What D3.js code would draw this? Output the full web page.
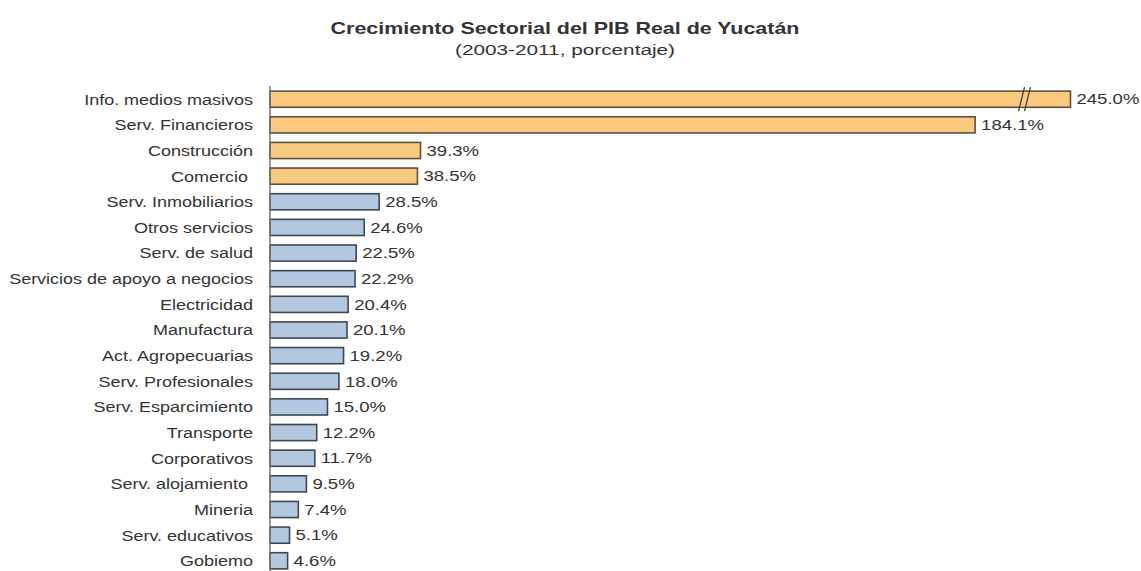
<!DOCTYPE html>
<html>
<head>
<meta charset="utf-8">
<script src="https://cdn.jsdelivr.net/npm/d3@7"></script>
<style>
  body { margin: 0; background: #fff; }
  text { font-family: "Liberation Sans", Arial, sans-serif; fill: #333; }
</style>
</head>
<body>
<script>
let sectors = ["Info. medios masivos", "Serv. Financieros", "Construcción", "Comercio\u00a0",
    "Serv. Inmobiliarios", "Otros servicios", "Serv. de salud", "Servicios de apoyo a negocios",
    "Electricidad", "Manufactura", "Act. Agropecuarias", "Serv. Profesionales",
    "Serv. Esparcimiento", "Transporte", "Corporativos", "Serv. alojamiento\u00a0",
    "Mineria", "Serv. educativos", "Gobiemo"];
let growth = [245.0, 184.1, 39.3, 38.5, 28.5, 24.6, 22.5, 22.2, 20.4, 20.1, 19.2, 18.0,
    15.0, 12.2, 11.7, 9.5, 7.4, 5.1, 4.6];
let highlighted = ["Info. medios masivos", "Serv. Financieros", "Construcción", "Comercio\u00a0"];
let breakAt = 209;      // bars longer than this are cut
let breakMark = 197;    // where the // sign goes

let size = {width: 1141, height: 571};
let margin = {top: 86, right: 70, bottom: 0, left: 270};
let stretch = {title: 1.34, label: 1.2, value: 1.28};   // the source type is wide

let svg = d3.select("body").append("svg")
    .attr("width", size.width)
    .attr("height", size.height);

let x = d3.scaleLinear()
    .domain([0, breakAt])
    .range([margin.left, margin.left + 3.83 * breakAt]);

let y = d3.scaleBand()
    .domain(sectors)
    .range([margin.top, 574])
    .paddingInner(0.37)
    .paddingOuter(0.2);

svg.append("text")
    .attr("transform", `translate(565,34) scale(${stretch.title},1)`)
    .attr("text-anchor", "middle")
    .attr("font-size", 16).attr("font-weight", "bold")
    .attr("fill", "#222")
    .text("Crecimiento Sectorial del PIB Real de Yucatán");

svg.append("text")
    .attr("transform", `translate(565,55) scale(${stretch.title},1)`)
    .attr("text-anchor", "middle")
    .attr("font-size", 15.5)
    .text("(2003-2011, porcentaje)");

let data = sectors.map((s, i) => ({sector: s, value: growth[i]}));

svg.append("g")
    .selectAll("rect")
    .data(data)
    .join("rect")
    .attr("x", x(0))
    .attr("y", d => y(d.sector))
    .attr("width", d => x(Math.min(d.value, breakAt)) - x(0))
    .attr("height", y.bandwidth())
    .attr("fill", d => highlighted.includes(d.sector) ? "#fac980" : "#b3c7df")
    .attr("stroke", d => highlighted.includes(d.sector) ? "#5a5040" : "#3f4852")
    .attr("stroke-width", 1.6);

// break sign on cut bars
let cut = data.filter(d => d.value > breakAt);
let breakG = svg.append("g").selectAll("g")
    .data(cut)
    .join("g")
    .attr("transform", d => `translate(${x(breakMark)},${y(d.sector) + y.bandwidth() / 2})`);
breakG.append("rect")
    .attr("x", -4).attr("y", -y.bandwidth() / 2 + 0.8)
    .attr("width", 7).attr("height", y.bandwidth() - 1.6)
    .attr("fill", "#fac980");
[-3, 3].forEach(dx => {
    breakG.append("line")
        .attr("x1", dx - 3).attr("y1", 12)
        .attr("x2", dx + 3).attr("y2", -12)
        .attr("stroke", "#333").attr("stroke-width", 1.2);
});

svg.append("g")
    .selectAll("text")
    .data(data)
    .join("text")
    .attr("transform", d => `translate(${x(Math.min(d.value, breakAt)) + 6},${y(d.sector) + y.bandwidth() / 2}) scale(${stretch.value},1)`)
    .attr("dy", "0.36em")
    .attr("font-size", 14.5)
    .text(d => d.value.toFixed(1) + "%");

let yAxis = g => g
    .attr("transform", `translate(${margin.left},0)`)
    .call(d3.axisLeft(y).tickSize(0).tickPadding(0))
    .call(g => g.select(".domain").attr("stroke", "#777").attr("stroke-width", 1.5)
        .attr("d", `M0,${margin.top}V${size.height}`))
    .call(g => g.selectAll(".tick text")
        .attr("x", null).attr("dy", "0.36em")
        .attr("transform", `translate(-17,0) scale(${stretch.label},1)`)
        .attr("font-size", 15).attr("fill", "#333")
        .attr("font-family", "Liberation Sans, Arial, sans-serif"));

svg.append("g").call(yAxis);
</script>
</body>
</html>
